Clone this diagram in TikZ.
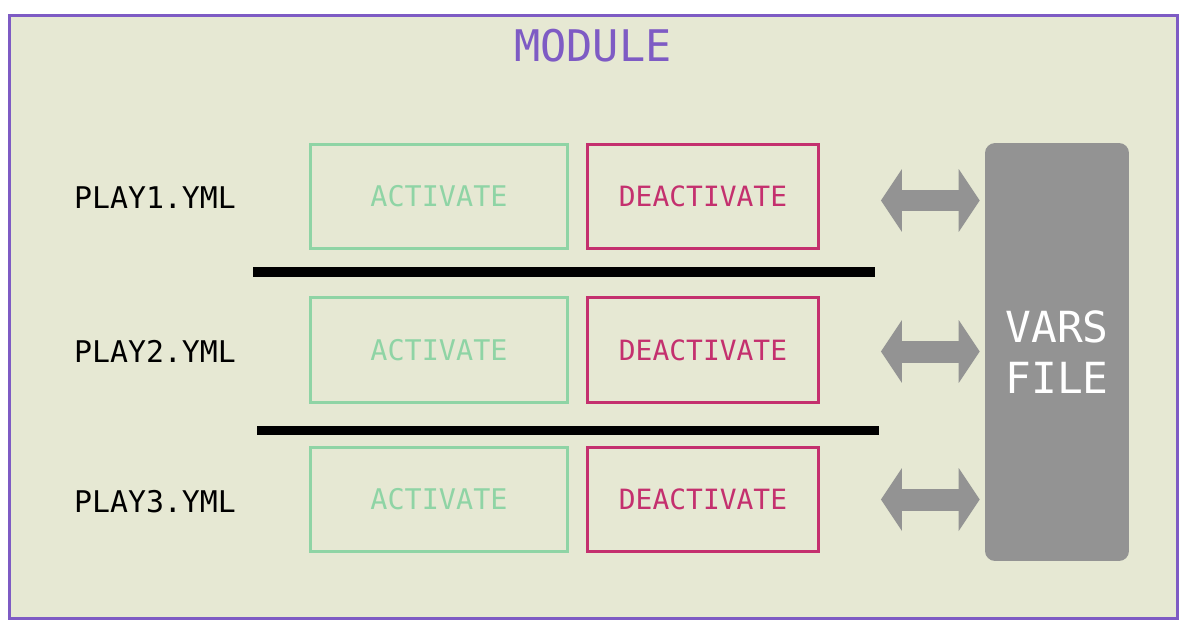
\documentclass[tikz,border=0pt]{standalone}
\usepackage{fontspec}
\setmonofont{DejaVu Sans Mono}
\usetikzlibrary{arrows.meta}
\definecolor{modbg}{HTML}{E6E8D3}
\definecolor{modpurple}{HTML}{7E5BC4}
\definecolor{actgreen}{HTML}{8FD4A5}
\definecolor{deactred}{HTML}{C4306E}
\definecolor{varsgrey}{HTML}{939393}

\begin{document}
\begin{tikzpicture}[x=0.02cm, y=-0.02cm,
    modframe/.style={draw=modpurple, fill=modbg, line width=0.06cm},
    modtitle/.style={text=modpurple, font=\ttfamily\fontsize{24.8}{30}\selectfont},
    playlabel/.style={text=black, font=\ttfamily\fontsize{17}{20}\selectfont},
    actbox/.style={draw=actgreen, line width=0.06cm, minimum width=5.14cm, minimum height=2.1cm, text=actgreen, font=\ttfamily\fontsize{16.2}{20}\selectfont},
    deactbox/.style={draw=deactred, line width=0.06cm, minimum width=4.62cm, minimum height=2.1cm, text=deactred, font=\ttfamily\fontsize{15.9}{20}\selectfont},
    varsbox/.style={fill=varsgrey, rounded corners=0.2cm, minimum width=2.88cm, minimum height=8.36cm, text=white, align=center, font=\ttfamily\fontsize{24.4}{29}\selectfont},
    sepbar/.style={draw=black, line width=0.19cm},
    biarrow/.style={draw=varsgrey, line width=0.44cm,
        {Triangle[width=1.26cm, length=0.42cm, line width=0pt]}-{Triangle[width=1.26cm, length=0.42cm, line width=0pt]},
        shorten <=1.22cm, shorten >=0.1cm}]
    \useasboundingbox[fill=white] (0,0) rectangle (1190,632);

    % Module
    \draw[modframe] (9.5,15.5) rectangle (1177,618.5);
    \node[modtitle] (title) at (593,46) {MODULE};

    % Play 1
    \node[playlabel] (p1) at (155,198) {PLAY1.YML};
    \node[actbox] (a1) at (439,196.5) {ACTIVATE};
    \node[deactbox] (d1) at (703,196.5) {DEACTIVATE};
    % Play 2
    \node[playlabel] (p2) at (155,351) {PLAY2.YML};
    \node[actbox] (a2) at (439,350) {ACTIVATE};
    \node[deactbox] (d2) at (703,350) {DEACTIVATE};
    % Play 3
    \node[playlabel] (p3) at (155,502) {PLAY3.YML};
    \node[actbox] (a3) at (439,499.5) {ACTIVATE};
    \node[deactbox] (d3) at (703,499.5) {DEACTIVATE};

    % Separators
    \draw[sepbar] (253,271.8) -- (875,271.8);
    \draw[sepbar] (257,430.5) -- (879,430.5);

    % Vars file
    \node[varsbox] (vars) at (1057,352) {VARS\\FILE};

    % Arrows
    \draw[biarrow] ([yshift=-0.08cm]d1.east) -- ([yshift=-0.08cm]d1.east -| vars.west);
    \draw[biarrow] ([yshift=-0.03cm]d2.east) -- ([yshift=-0.03cm]d2.east -| vars.west);
    \draw[biarrow] (d3.east) -- (d3.east -| vars.west);
\end{tikzpicture}
\end{document}
